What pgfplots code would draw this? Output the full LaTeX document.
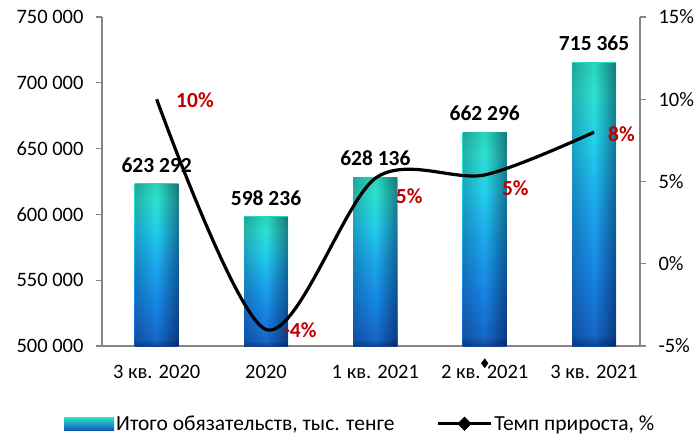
\documentclass[border=0pt]{standalone}
\usepackage{pgfplots}
\pgfplotsset{compat=1.18}
\usetikzlibrary{fadings}
\usepackage{fontspec}
\setmainfont{Carlito}
\definecolor{axgray}{RGB}{134,134,134}
\definecolor{lblred}{RGB}{192,0,0}
\definecolor{bartop}{RGB}{45,225,200}
\definecolor{barbot}{RGB}{18,90,185}
\pgfdeclareverticalshading{barshade}{100bp}{
  color(0bp)=(rgb,255:red,15;green,70;blue,150);
  color(25bp)=(rgb,255:red,15;green,70;blue,150);
  color(27bp)=(rgb,255:red,22;green,105;blue,200);
  color(38bp)=(rgb,255:red,24;green,135;blue,230);
  color(50bp)=(rgb,255:red,28;green,170;blue,238);
  color(61bp)=(rgb,255:red,35;green,210;blue,238);
  color(70bp)=(rgb,255:red,45;green,228;blue,208);
  color(75bp)=(rgb,255:red,40;green,215;blue,190);
  color(100bp)=(rgb,255:red,40;green,215;blue,190)}
\tikzfading[name=sidefade, left color=transparent!50, right color=transparent!0, middle color=transparent!100]
\newcommand{\tickfont}{\fontsize{20.5bp}{24bp}\selectfont}
\newcommand{\lblfont}{\fontsize{21.5bp}{25bp}\selectfont\bfseries}
\pgfplotsset{
  onebar/.style={ybar, bar width=44bp, bar shift=0pt, draw=none, shading=barshade,
    nodes near coords, point meta=explicit symbolic,
    nodes near coords style={font=\lblfont, text=black, yshift=8bp}},
  barsides/.style={ybar, bar width=44bp, bar shift=0pt, draw=none, forget plot,
    fill=black!85!blue, path fading=sidefade, fill opacity=0.45},
}
\begin{document}
\begin{tikzpicture}
\path[use as bounding box] (-102bp,-91bp) rectangle (597bp,346bp);
\begin{axis}[
  at={(0,0)}, anchor=south west,
  scale only axis, width=538bp, height=329bp,
  xmin=-0.5, xmax=4.42, ymin=500000, ymax=750000,
  axis y line*=left, axis x line*=bottom,
  axis line style={axgray, line width=1.3bp},
  xtick={0,1,2,3,4},
  xticklabels={3 кв. 2020, 2020, 1 кв. 2021, 2 кв. 2021, 3 кв. 2021},
  x tick style={draw=none},
  ytick={500000,550000,600000,650000,700000,750000},
  yticklabels={500 000,550 000,600 000,650 000,700 000,750 000},
  y tick style={axgray, line width=1.3bp},
  tick align=outside, major tick length=6bp,
  scaled y ticks=false,
  tick label style={font=\tickfont, text=black},
  xticklabel style={yshift=-10bp},
  yticklabel style={xshift=-9bp},
  clip=false,
  legend style={at={(0.48,-0.236)}, anchor=center, draw=none, fill=none,
    legend columns=2, font=\fontsize{21.5bp}{25bp}\selectfont,
    /tikz/every even column/.append style={column sep=40bp}},
  legend cell align=left,
]
\addplot[onebar,
  legend image code/.code={\fill[top color=bartop, bottom color=barbot] (0bp,-6.5bp) rectangle (50bp,6.5bp);}]
  coordinates {(0,623292)[623 292]};
\addlegendentry{Итого обязательств, тыс. тенге}
\addplot[onebar, forget plot] coordinates {(1,598236)[598 236]};
\addplot[onebar, forget plot] coordinates {(2,628136)[628 136]};
\addplot[onebar, forget plot] coordinates {(3,662296)[662 296]};
\addplot[onebar, forget plot] coordinates {(4,715365)[715 365]};
\addplot[barsides] coordinates {(0,623292)};
\addplot[barsides] coordinates {(1,598236)};
\addplot[barsides] coordinates {(2,628136)};
\addplot[barsides] coordinates {(3,662296)};
\addplot[barsides] coordinates {(4,715365)};
\addlegendimage{black, line width=3bp,
  legend image code/.code={\draw[black, line width=3bp] (0bp,0bp) -- (53bp,0bp); \fill[black] (26.5bp,0bp) +(-5bp,0) -- +(0,5bp) -- +(5bp,0) -- +(0,-5bp) -- cycle;}}
\addlegendentry{Темп прироста, \%}
\end{axis}
\begin{axis}[
  at={(0,0)}, anchor=south west,
  scale only axis, width=538bp, height=329bp,
  xmin=-0.5, xmax=4.42, ymin=-5, ymax=15,
  axis y line*=right, axis x line=none,
  axis line style={axgray, line width=1.3bp},
  ytick={-5,0,5,10,15},
  yticklabels={-5\%,0\%,5\%,10\%,15\%},
  y tick style={axgray, line width=1.3bp},
  tick align=outside, major tick length=6bp,
  tick label style={font=\tickfont, text=black},
  yticklabel style={xshift=9bp},
  clip=false,
]
\addplot[black, line width=3.2bp, smooth, tension=0.5, mark=none] coordinates {(0,10) (1,-4) (2,5.2) (3,5.4) (4,8)};
\addplot[only marks, mark=diamond*, mark size=4.5bp, black] coordinates {(3,-6.05)};
\addplot[draw=none, mark=none, nodes near coords, point meta=explicit symbolic,
  nodes near coords style={anchor=center, font=\lblfont, text=lblred}]
  coordinates {(0.35,9.95)[10\%] (1.31,-4.03)[-4\%] (2.31,4.12)[5\%] (3.28,4.6)[5\%] (4.25,7.9)[8\%]};
\end{axis}
\end{tikzpicture}
\end{document}
